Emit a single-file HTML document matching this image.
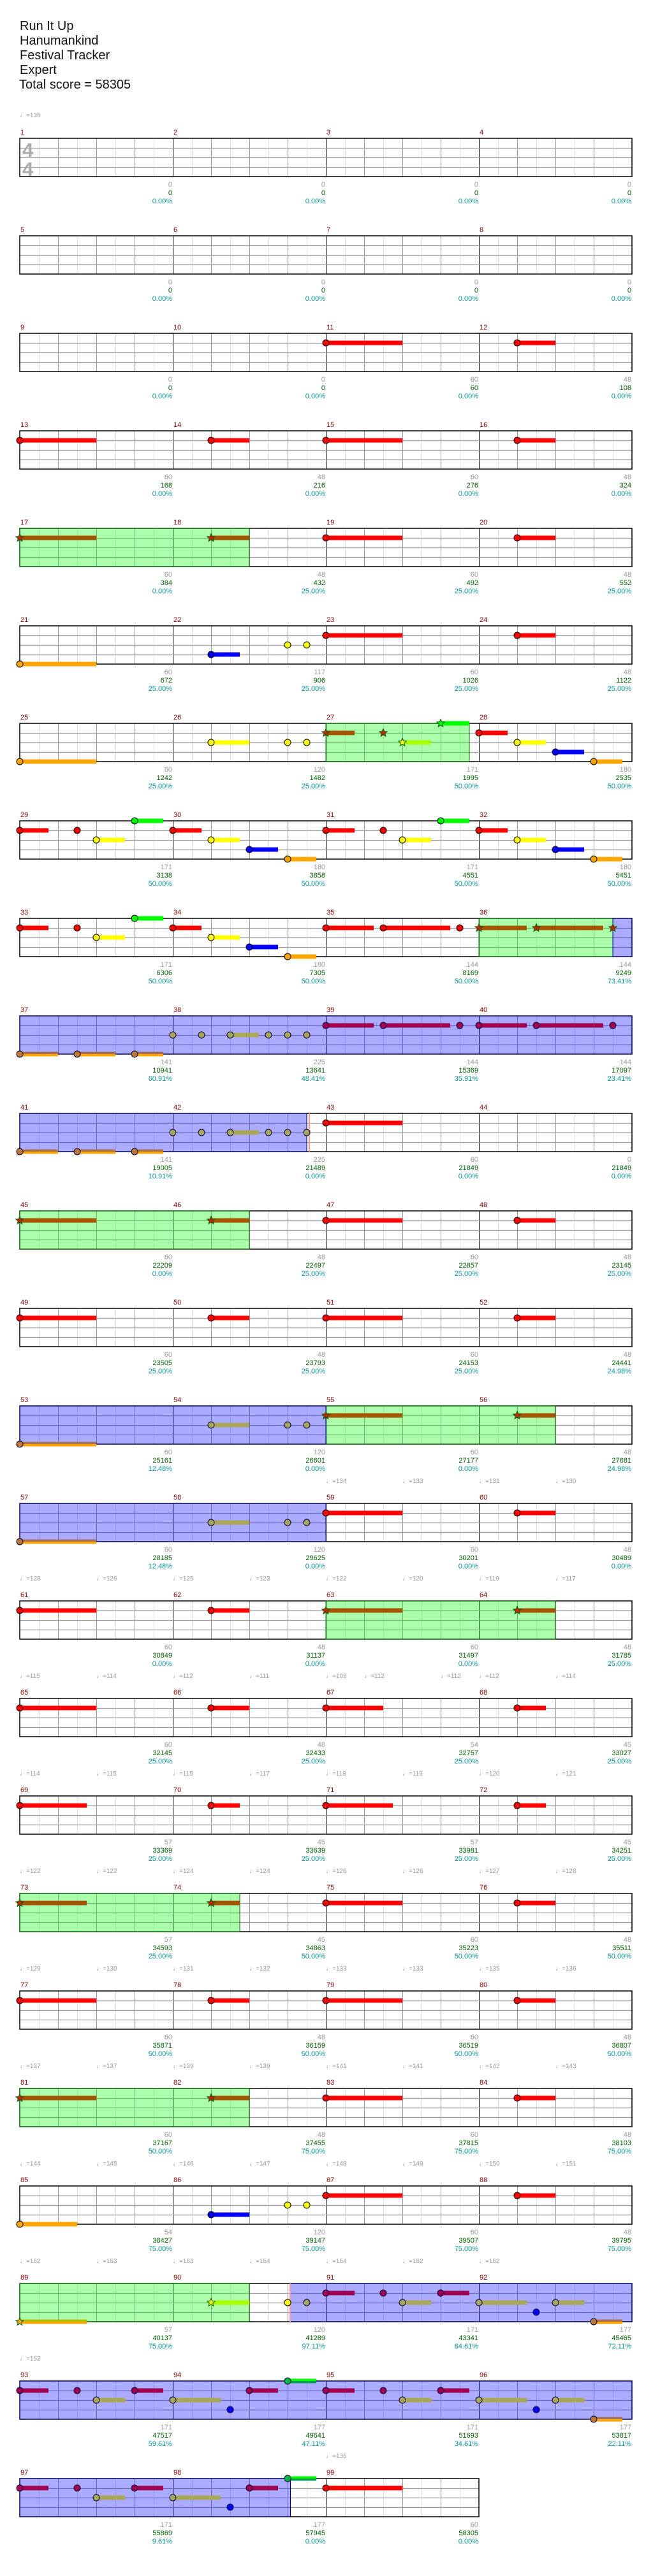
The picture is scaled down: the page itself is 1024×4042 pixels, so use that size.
<!DOCTYPE html>
<html><head><meta charset="utf-8">
<style>
html,body{margin:0;padding:0;background:#fff}
svg{display:block}
text{font-family:"Liberation Sans",sans-serif}
.ti{font-size:20px;fill:#111}
.mn{font-size:11px;fill:#8b0000}
.a,.b,.c{font-size:11px;text-anchor:end}
.a{fill:#999}.b{fill:#006400}.c{fill:#009999}
.t{font-size:10px;fill:#999}
.ts{font-size:31px;font-weight:bold;fill:#aaa}
</style></head><body>
<svg id="s" xmlns="http://www.w3.org/2000/svg" width="1024" height="4042" viewBox="0 0 1024 4042">
<rect width="1024" height="4042" fill="#fff"/>
<g id="grid"></g><g id="bg"></g><g id="notes"></g>
<text class="ti" x="31" y="47">Run It Up</text>
<text class="ti" x="31" y="70">Hanumankind</text>
<text class="ti" x="31" y="93">Festival Tracker</text>
<text class="ti" x="31" y="116">Expert</text>
<text class="ti" x="30" y="139">Total score = 58305</text>
<text class="t" x="31" y="184">♩=135</text>
<text class="ts" x="35" y="246">4</text>
<text class="ts" x="35" y="276">4</text>

<g transform="translate(0,217)"><text class="mn" x="32" y="-6">1</text><text class="mn" x="272" y="-6">2</text><text class="mn" x="512" y="-6">3</text><text class="mn" x="752" y="-6">4</text>
<text class="a" x="270" y="76">0</text><text class="b" x="270" y="89">0</text><text class="c" x="270" y="102">0.00%</text>
<text class="a" x="510" y="76">0</text><text class="b" x="510" y="89">0</text><text class="c" x="510" y="102">0.00%</text>
<text class="a" x="750" y="76">0</text><text class="b" x="750" y="89">0</text><text class="c" x="750" y="102">0.00%</text>
<text class="a" x="990" y="76">0</text><text class="b" x="990" y="89">0</text><text class="c" x="990" y="102">0.00%</text></g>

<g transform="translate(0,370)"><text class="mn" x="32" y="-6">5</text><text class="mn" x="272" y="-6">6</text><text class="mn" x="512" y="-6">7</text><text class="mn" x="752" y="-6">8</text>
<text class="a" x="270" y="76">0</text><text class="b" x="270" y="89">0</text><text class="c" x="270" y="102">0.00%</text>
<text class="a" x="510" y="76">0</text><text class="b" x="510" y="89">0</text><text class="c" x="510" y="102">0.00%</text>
<text class="a" x="750" y="76">0</text><text class="b" x="750" y="89">0</text><text class="c" x="750" y="102">0.00%</text>
<text class="a" x="990" y="76">0</text><text class="b" x="990" y="89">0</text><text class="c" x="990" y="102">0.00%</text></g>

<g transform="translate(0,523)"><text class="mn" x="32" y="-6">9</text><text class="mn" x="272" y="-6">10</text><text class="mn" x="512" y="-6">11</text><text class="mn" x="752" y="-6">12</text>
<text class="a" x="270" y="76">0</text><text class="b" x="270" y="89">0</text><text class="c" x="270" y="102">0.00%</text>
<text class="a" x="510" y="76">0</text><text class="b" x="510" y="89">0</text><text class="c" x="510" y="102">0.00%</text>
<text class="a" x="750" y="76">60</text><text class="b" x="750" y="89">60</text><text class="c" x="750" y="102">0.00%</text>
<text class="a" x="990" y="76">48</text><text class="b" x="990" y="89">108</text><text class="c" x="990" y="102">0.00%</text></g>

<g transform="translate(0,676)"><text class="mn" x="32" y="-6">13</text><text class="mn" x="272" y="-6">14</text><text class="mn" x="512" y="-6">15</text><text class="mn" x="752" y="-6">16</text>
<text class="a" x="270" y="76">60</text><text class="b" x="270" y="89">168</text><text class="c" x="270" y="102">0.00%</text>
<text class="a" x="510" y="76">48</text><text class="b" x="510" y="89">216</text><text class="c" x="510" y="102">0.00%</text>
<text class="a" x="750" y="76">60</text><text class="b" x="750" y="89">276</text><text class="c" x="750" y="102">0.00%</text>
<text class="a" x="990" y="76">48</text><text class="b" x="990" y="89">324</text><text class="c" x="990" y="102">0.00%</text></g>

<g transform="translate(0,829)"><text class="mn" x="32" y="-6">17</text><text class="mn" x="272" y="-6">18</text><text class="mn" x="512" y="-6">19</text><text class="mn" x="752" y="-6">20</text>
<text class="a" x="270" y="76">60</text><text class="b" x="270" y="89">384</text><text class="c" x="270" y="102">0.00%</text>
<text class="a" x="510" y="76">48</text><text class="b" x="510" y="89">432</text><text class="c" x="510" y="102">25.00%</text>
<text class="a" x="750" y="76">60</text><text class="b" x="750" y="89">492</text><text class="c" x="750" y="102">25.00%</text>
<text class="a" x="990" y="76">48</text><text class="b" x="990" y="89">552</text><text class="c" x="990" y="102">25.00%</text></g>

<g transform="translate(0,982)"><text class="mn" x="32" y="-6">21</text><text class="mn" x="272" y="-6">22</text><text class="mn" x="512" y="-6">23</text><text class="mn" x="752" y="-6">24</text>
<text class="a" x="270" y="76">60</text><text class="b" x="270" y="89">672</text><text class="c" x="270" y="102">25.00%</text>
<text class="a" x="510" y="76">117</text><text class="b" x="510" y="89">906</text><text class="c" x="510" y="102">25.00%</text>
<text class="a" x="750" y="76">60</text><text class="b" x="750" y="89">1026</text><text class="c" x="750" y="102">25.00%</text>
<text class="a" x="990" y="76">48</text><text class="b" x="990" y="89">1122</text><text class="c" x="990" y="102">25.00%</text></g>

<g transform="translate(0,1135)"><text class="mn" x="32" y="-6">25</text><text class="mn" x="272" y="-6">26</text><text class="mn" x="512" y="-6">27</text><text class="mn" x="752" y="-6">28</text>
<text class="a" x="270" y="76">60</text><text class="b" x="270" y="89">1242</text><text class="c" x="270" y="102">25.00%</text>
<text class="a" x="510" y="76">120</text><text class="b" x="510" y="89">1482</text><text class="c" x="510" y="102">25.00%</text>
<text class="a" x="750" y="76">171</text><text class="b" x="750" y="89">1995</text><text class="c" x="750" y="102">50.00%</text>
<text class="a" x="990" y="76">180</text><text class="b" x="990" y="89">2535</text><text class="c" x="990" y="102">50.00%</text></g>

<g transform="translate(0,1288)"><text class="mn" x="32" y="-6">29</text><text class="mn" x="272" y="-6">30</text><text class="mn" x="512" y="-6">31</text><text class="mn" x="752" y="-6">32</text>
<text class="a" x="270" y="76">171</text><text class="b" x="270" y="89">3138</text><text class="c" x="270" y="102">50.00%</text>
<text class="a" x="510" y="76">180</text><text class="b" x="510" y="89">3858</text><text class="c" x="510" y="102">50.00%</text>
<text class="a" x="750" y="76">171</text><text class="b" x="750" y="89">4551</text><text class="c" x="750" y="102">50.00%</text>
<text class="a" x="990" y="76">180</text><text class="b" x="990" y="89">5451</text><text class="c" x="990" y="102">50.00%</text></g>

<g transform="translate(0,1441)"><text class="mn" x="32" y="-6">33</text><text class="mn" x="272" y="-6">34</text><text class="mn" x="512" y="-6">35</text><text class="mn" x="752" y="-6">36</text>
<text class="a" x="270" y="76">171</text><text class="b" x="270" y="89">6306</text><text class="c" x="270" y="102">50.00%</text>
<text class="a" x="510" y="76">180</text><text class="b" x="510" y="89">7305</text><text class="c" x="510" y="102">50.00%</text>
<text class="a" x="750" y="76">144</text><text class="b" x="750" y="89">8169</text><text class="c" x="750" y="102">50.00%</text>
<text class="a" x="990" y="76">144</text><text class="b" x="990" y="89">9249</text><text class="c" x="990" y="102">73.41%</text></g>

<g transform="translate(0,1594)"><text class="mn" x="32" y="-6">37</text><text class="mn" x="272" y="-6">38</text><text class="mn" x="512" y="-6">39</text><text class="mn" x="752" y="-6">40</text>
<text class="a" x="270" y="76">141</text><text class="b" x="270" y="89">10941</text><text class="c" x="270" y="102">60.91%</text>
<text class="a" x="510" y="76">225</text><text class="b" x="510" y="89">13641</text><text class="c" x="510" y="102">48.41%</text>
<text class="a" x="750" y="76">144</text><text class="b" x="750" y="89">15369</text><text class="c" x="750" y="102">35.91%</text>
<text class="a" x="990" y="76">144</text><text class="b" x="990" y="89">17097</text><text class="c" x="990" y="102">23.41%</text></g>

<g transform="translate(0,1747)"><text class="mn" x="32" y="-6">41</text><text class="mn" x="272" y="-6">42</text><text class="mn" x="512" y="-6">43</text><text class="mn" x="752" y="-6">44</text>
<text class="a" x="270" y="76">141</text><text class="b" x="270" y="89">19005</text><text class="c" x="270" y="102">10.91%</text>
<text class="a" x="510" y="76">225</text><text class="b" x="510" y="89">21489</text><text class="c" x="510" y="102">0.00%</text>
<text class="a" x="750" y="76">60</text><text class="b" x="750" y="89">21849</text><text class="c" x="750" y="102">0.00%</text>
<text class="a" x="990" y="76">0</text><text class="b" x="990" y="89">21849</text><text class="c" x="990" y="102">0.00%</text></g>

<g transform="translate(0,1900)"><text class="mn" x="32" y="-6">45</text><text class="mn" x="272" y="-6">46</text><text class="mn" x="512" y="-6">47</text><text class="mn" x="752" y="-6">48</text>
<text class="a" x="270" y="76">60</text><text class="b" x="270" y="89">22209</text><text class="c" x="270" y="102">0.00%</text>
<text class="a" x="510" y="76">48</text><text class="b" x="510" y="89">22497</text><text class="c" x="510" y="102">25.00%</text>
<text class="a" x="750" y="76">60</text><text class="b" x="750" y="89">22857</text><text class="c" x="750" y="102">25.00%</text>
<text class="a" x="990" y="76">48</text><text class="b" x="990" y="89">23145</text><text class="c" x="990" y="102">25.00%</text></g>

<g transform="translate(0,2053)"><text class="mn" x="32" y="-6">49</text><text class="mn" x="272" y="-6">50</text><text class="mn" x="512" y="-6">51</text><text class="mn" x="752" y="-6">52</text>
<text class="a" x="270" y="76">60</text><text class="b" x="270" y="89">23505</text><text class="c" x="270" y="102">25.00%</text>
<text class="a" x="510" y="76">48</text><text class="b" x="510" y="89">23793</text><text class="c" x="510" y="102">25.00%</text>
<text class="a" x="750" y="76">60</text><text class="b" x="750" y="89">24153</text><text class="c" x="750" y="102">25.00%</text>
<text class="a" x="990" y="76">48</text><text class="b" x="990" y="89">24441</text><text class="c" x="990" y="102">24.98%</text></g>

<g transform="translate(0,2206)"><text class="mn" x="32" y="-6">53</text><text class="mn" x="272" y="-6">54</text><text class="mn" x="512" y="-6">55</text><text class="mn" x="752" y="-6">56</text>
<text class="a" x="270" y="76">60</text><text class="b" x="270" y="89">25161</text><text class="c" x="270" y="102">12.48%</text>
<text class="a" x="510" y="76">120</text><text class="b" x="510" y="89">26601</text><text class="c" x="510" y="102">0.00%</text>
<text class="a" x="750" y="76">60</text><text class="b" x="750" y="89">27177</text><text class="c" x="750" y="102">0.00%</text>
<text class="a" x="990" y="76">48</text><text class="b" x="990" y="89">27681</text><text class="c" x="990" y="102">24.98%</text>
<text class="t" x="511" y="121">♩=134</text><text class="t" x="631" y="121">♩=133</text><text class="t" x="751" y="121">♩=131</text><text class="t" x="871" y="121">♩=130</text></g>

<g transform="translate(0,2359)"><text class="mn" x="32" y="-6">57</text><text class="mn" x="272" y="-6">58</text><text class="mn" x="512" y="-6">59</text><text class="mn" x="752" y="-6">60</text>
<text class="a" x="270" y="76">60</text><text class="b" x="270" y="89">28185</text><text class="c" x="270" y="102">12.48%</text>
<text class="a" x="510" y="76">120</text><text class="b" x="510" y="89">29625</text><text class="c" x="510" y="102">0.00%</text>
<text class="a" x="750" y="76">60</text><text class="b" x="750" y="89">30201</text><text class="c" x="750" y="102">0.00%</text>
<text class="a" x="990" y="76">48</text><text class="b" x="990" y="89">30489</text><text class="c" x="990" y="102">0.00%</text>
<text class="t" x="31" y="121">♩=128</text><text class="t" x="151" y="121">♩=126</text><text class="t" x="271" y="121">♩=125</text><text class="t" x="391" y="121">♩=123</text><text class="t" x="511" y="121">♩=122</text><text class="t" x="631" y="121">♩=120</text><text class="t" x="751" y="121">♩=119</text><text class="t" x="871" y="121">♩=117</text></g>

<g transform="translate(0,2512)"><text class="mn" x="32" y="-6">61</text><text class="mn" x="272" y="-6">62</text><text class="mn" x="512" y="-6">63</text><text class="mn" x="752" y="-6">64</text>
<text class="a" x="270" y="76">60</text><text class="b" x="270" y="89">30849</text><text class="c" x="270" y="102">0.00%</text>
<text class="a" x="510" y="76">48</text><text class="b" x="510" y="89">31137</text><text class="c" x="510" y="102">0.00%</text>
<text class="a" x="750" y="76">60</text><text class="b" x="750" y="89">31497</text><text class="c" x="750" y="102">0.00%</text>
<text class="a" x="990" y="76">48</text><text class="b" x="990" y="89">31785</text><text class="c" x="990" y="102">25.00%</text>
<text class="t" x="31" y="121">♩=115</text><text class="t" x="151" y="121">♩=114</text><text class="t" x="271" y="121">♩=112</text><text class="t" x="391" y="121">♩=111</text><text class="t" x="511" y="121">♩=108</text><text class="t" x="571" y="121">♩=112</text><text class="t" x="691" y="121">♩=112</text><text class="t" x="751" y="121">♩=112</text><text class="t" x="871" y="121">♩=114</text></g>

<g transform="translate(0,2665)"><text class="mn" x="32" y="-6">65</text><text class="mn" x="272" y="-6">66</text><text class="mn" x="512" y="-6">67</text><text class="mn" x="752" y="-6">68</text>
<text class="a" x="270" y="76">60</text><text class="b" x="270" y="89">32145</text><text class="c" x="270" y="102">25.00%</text>
<text class="a" x="510" y="76">48</text><text class="b" x="510" y="89">32433</text><text class="c" x="510" y="102">25.00%</text>
<text class="a" x="750" y="76">54</text><text class="b" x="750" y="89">32757</text><text class="c" x="750" y="102">25.00%</text>
<text class="a" x="990" y="76">45</text><text class="b" x="990" y="89">33027</text><text class="c" x="990" y="102">25.00%</text>
<text class="t" x="31" y="121">♩=114</text><text class="t" x="151" y="121">♩=115</text><text class="t" x="271" y="121">♩=115</text><text class="t" x="391" y="121">♩=117</text><text class="t" x="511" y="121">♩=118</text><text class="t" x="631" y="121">♩=119</text><text class="t" x="751" y="121">♩=120</text><text class="t" x="871" y="121">♩=121</text></g>

<g transform="translate(0,2818)"><text class="mn" x="32" y="-6">69</text><text class="mn" x="272" y="-6">70</text><text class="mn" x="512" y="-6">71</text><text class="mn" x="752" y="-6">72</text>
<text class="a" x="270" y="76">57</text><text class="b" x="270" y="89">33369</text><text class="c" x="270" y="102">25.00%</text>
<text class="a" x="510" y="76">45</text><text class="b" x="510" y="89">33639</text><text class="c" x="510" y="102">25.00%</text>
<text class="a" x="750" y="76">57</text><text class="b" x="750" y="89">33981</text><text class="c" x="750" y="102">25.00%</text>
<text class="a" x="990" y="76">45</text><text class="b" x="990" y="89">34251</text><text class="c" x="990" y="102">25.00%</text>
<text class="t" x="31" y="121">♩=122</text><text class="t" x="151" y="121">♩=122</text><text class="t" x="271" y="121">♩=124</text><text class="t" x="391" y="121">♩=124</text><text class="t" x="511" y="121">♩=126</text><text class="t" x="631" y="121">♩=126</text><text class="t" x="751" y="121">♩=127</text><text class="t" x="871" y="121">♩=128</text></g>

<g transform="translate(0,2971)"><text class="mn" x="32" y="-6">73</text><text class="mn" x="272" y="-6">74</text><text class="mn" x="512" y="-6">75</text><text class="mn" x="752" y="-6">76</text>
<text class="a" x="270" y="76">57</text><text class="b" x="270" y="89">34593</text><text class="c" x="270" y="102">25.00%</text>
<text class="a" x="510" y="76">45</text><text class="b" x="510" y="89">34863</text><text class="c" x="510" y="102">50.00%</text>
<text class="a" x="750" y="76">60</text><text class="b" x="750" y="89">35223</text><text class="c" x="750" y="102">50.00%</text>
<text class="a" x="990" y="76">48</text><text class="b" x="990" y="89">35511</text><text class="c" x="990" y="102">50.00%</text>
<text class="t" x="31" y="121">♩=129</text><text class="t" x="151" y="121">♩=130</text><text class="t" x="271" y="121">♩=131</text><text class="t" x="391" y="121">♩=132</text><text class="t" x="511" y="121">♩=133</text><text class="t" x="631" y="121">♩=133</text><text class="t" x="751" y="121">♩=135</text><text class="t" x="871" y="121">♩=136</text></g>

<g transform="translate(0,3124)"><text class="mn" x="32" y="-6">77</text><text class="mn" x="272" y="-6">78</text><text class="mn" x="512" y="-6">79</text><text class="mn" x="752" y="-6">80</text>
<text class="a" x="270" y="76">60</text><text class="b" x="270" y="89">35871</text><text class="c" x="270" y="102">50.00%</text>
<text class="a" x="510" y="76">48</text><text class="b" x="510" y="89">36159</text><text class="c" x="510" y="102">50.00%</text>
<text class="a" x="750" y="76">60</text><text class="b" x="750" y="89">36519</text><text class="c" x="750" y="102">50.00%</text>
<text class="a" x="990" y="76">48</text><text class="b" x="990" y="89">36807</text><text class="c" x="990" y="102">50.00%</text>
<text class="t" x="31" y="121">♩=137</text><text class="t" x="151" y="121">♩=137</text><text class="t" x="271" y="121">♩=139</text><text class="t" x="391" y="121">♩=139</text><text class="t" x="511" y="121">♩=141</text><text class="t" x="631" y="121">♩=141</text><text class="t" x="751" y="121">♩=142</text><text class="t" x="871" y="121">♩=143</text></g>

<g transform="translate(0,3277)"><text class="mn" x="32" y="-6">81</text><text class="mn" x="272" y="-6">82</text><text class="mn" x="512" y="-6">83</text><text class="mn" x="752" y="-6">84</text>
<text class="a" x="270" y="76">60</text><text class="b" x="270" y="89">37167</text><text class="c" x="270" y="102">50.00%</text>
<text class="a" x="510" y="76">48</text><text class="b" x="510" y="89">37455</text><text class="c" x="510" y="102">75.00%</text>
<text class="a" x="750" y="76">60</text><text class="b" x="750" y="89">37815</text><text class="c" x="750" y="102">75.00%</text>
<text class="a" x="990" y="76">48</text><text class="b" x="990" y="89">38103</text><text class="c" x="990" y="102">75.00%</text>
<text class="t" x="31" y="121">♩=144</text><text class="t" x="151" y="121">♩=145</text><text class="t" x="271" y="121">♩=146</text><text class="t" x="391" y="121">♩=147</text><text class="t" x="511" y="121">♩=148</text><text class="t" x="631" y="121">♩=149</text><text class="t" x="751" y="121">♩=150</text><text class="t" x="871" y="121">♩=151</text></g>

<g transform="translate(0,3430)"><text class="mn" x="32" y="-6">85</text><text class="mn" x="272" y="-6">86</text><text class="mn" x="512" y="-6">87</text><text class="mn" x="752" y="-6">88</text>
<text class="a" x="270" y="76">54</text><text class="b" x="270" y="89">38427</text><text class="c" x="270" y="102">75.00%</text>
<text class="a" x="510" y="76">120</text><text class="b" x="510" y="89">39147</text><text class="c" x="510" y="102">75.00%</text>
<text class="a" x="750" y="76">60</text><text class="b" x="750" y="89">39507</text><text class="c" x="750" y="102">75.00%</text>
<text class="a" x="990" y="76">48</text><text class="b" x="990" y="89">39795</text><text class="c" x="990" y="102">75.00%</text>
<text class="t" x="31" y="121">♩=152</text><text class="t" x="151" y="121">♩=153</text><text class="t" x="271" y="121">♩=153</text><text class="t" x="391" y="121">♩=154</text><text class="t" x="511" y="121">♩=154</text><text class="t" x="631" y="121">♩=152</text><text class="t" x="751" y="121">♩=152</text></g>

<g transform="translate(0,3583)"><text class="mn" x="32" y="-6">89</text><text class="mn" x="272" y="-6">90</text><text class="mn" x="512" y="-6">91</text><text class="mn" x="752" y="-6">92</text>
<text class="a" x="270" y="76">57</text><text class="b" x="270" y="89">40137</text><text class="c" x="270" y="102">75.00%</text>
<text class="a" x="510" y="76">120</text><text class="b" x="510" y="89">41289</text><text class="c" x="510" y="102">97.11%</text>
<text class="a" x="750" y="76">171</text><text class="b" x="750" y="89">43341</text><text class="c" x="750" y="102">84.61%</text>
<text class="a" x="990" y="76">177</text><text class="b" x="990" y="89">45465</text><text class="c" x="990" y="102">72.11%</text>
<text class="t" x="31" y="121">♩=152</text></g>

<g transform="translate(0,3736)"><text class="mn" x="32" y="-6">93</text><text class="mn" x="272" y="-6">94</text><text class="mn" x="512" y="-6">95</text><text class="mn" x="752" y="-6">96</text>
<text class="a" x="270" y="76">171</text><text class="b" x="270" y="89">47517</text><text class="c" x="270" y="102">59.61%</text>
<text class="a" x="510" y="76">177</text><text class="b" x="510" y="89">49641</text><text class="c" x="510" y="102">47.11%</text>
<text class="a" x="750" y="76">171</text><text class="b" x="750" y="89">51693</text><text class="c" x="750" y="102">34.61%</text>
<text class="a" x="990" y="76">177</text><text class="b" x="990" y="89">53817</text><text class="c" x="990" y="102">22.11%</text>
<text class="t" x="511" y="121">♩=135</text></g>

<g transform="translate(0,3889)"><text class="mn" x="32" y="-6">97</text><text class="mn" x="272" y="-6">98</text><text class="mn" x="512" y="-6">99</text>
<text class="a" x="270" y="76">171</text><text class="b" x="270" y="89">55869</text><text class="c" x="270" y="102">9.61%</text>
<text class="a" x="510" y="76">177</text><text class="b" x="510" y="89">57945</text><text class="c" x="510" y="102">0.00%</text>
<text class="a" x="750" y="76">60</text><text class="b" x="750" y="89">58305</text><text class="c" x="750" y="102">0.00%</text></g>
</svg>
<script>
(function(){
var NS="http://www.w3.org/2000/svg";
var G=document.getElementById('grid'),B=document.getElementById('bg'),N=document.getElementById('notes');
function el(p,t,a){var e=document.createElementNS(NS,t);for(var k in a)e.setAttribute(k,a[k]);p.appendChild(e);return e;}
function RY(r){return 217+153*r;}
// grid
for(var r=0;r<25;r++){
  var nm=r==24?3:4,y=RY(r),w=240*nm;
  for(var i=1;i<nm*8;i++){
    var x=31+30*i+0.5,c=i%8==0?'#000':(i%2==0?'#999':'#ddd');
    el(G,'line',{x1:x,x2:x,y1:y,y2:y+60,stroke:c,'stroke-width':1});
  }
  for(var l=1;l<4;l++){el(G,'line',{x1:31,x2:31+w,y1:y+15*l+0.5,y2:y+15*l+0.5,stroke:'#999','stroke-width':1.2});}
  el(G,'rect',{x:31,y:y,width:w,height:60,fill:'none',stroke:'#000','stroke-width':1.5});
}
// backgrounds
function ab(m,p){return (m-1)*8+p;}
var BG=[[17,0,18,4,'g'],[27,0,27,7.5,'g'],[36,0,36,7,'g'],[45,0,46,4,'g'],[55,0,56,4,'g'],[63,0,64,4,'g'],[73,0,74,3.5,'g'],[81,0,82,4,'g'],[89,0,90,4,'g'],
[36,7,42,7,'b'],[53,0,54,8,'b'],[57,0,58,8,'b'],[90,6.15,98,6.15,'b']];
BG.forEach(function(b){
  var a=ab(b[0],b[1]),e=ab(b[2],b[3]);
  for(var r=Math.floor(a/32);r*32<e;r++){
    var s=Math.max(a,r*32),t=Math.min(e,r*32+32);
    if(t<=s)continue;
    el(B,'rect',{x:31+30*(s-r*32),y:RY(r),width:30*(t-s),height:60,
      fill:b[4]=='g'?'#00ff00':'#0000ff','fill-opacity':0.33,
      stroke:b[4]=='g'?'#007000':'#000070','stroke-width':1});
  }
});
[[42,7],[90,6]].forEach(function(q){var m=q[0];var r=Math.floor((m-1)/4);
  el(B,'rect',{x:31+240*((m-1)%4)+30*q[1]+3,y:RY(r),width:2,height:60,fill:'#f99'});});
// notes
var L=[];
function add(t,m,arr){arr.forEach(function(n){L.push([m,n[0],n[1],n[2],t]);});}
var P2=[[2,1,2]],P4=[[0,1,4]];
[11,13,15,19,23,43,47,49,51,59,61,65,75,77,79,83,87,99].forEach(function(m){add('n',m,P4);});
[12,14,16,20,24,48,50,52,60,62,66,76,78,80,84,88].forEach(function(m){add('n',m,P2);});
add('n',21,[[0,4,4]]);add('n',22,[[2,3,1.5],[6,2,0],[7,2,0]]);
add('n',25,[[0,4,4]]);add('n',26,[[2,2,2],[6,2,0],[7,2,0]]);
var PA=[[0,1,1.5],[3,1,0],[4,2,1.5],[6,0,1.5]],PB=[[0,1,1.5],[2,2,1.5],[4,3,1.5],[6,4,1.5]];
add('n',28,PB);[29,31,33].forEach(function(m){add('n',m,PA);});[30,32,34].forEach(function(m){add('n',m,PB);});
add('n',35,[[0,1,2.5],[3,1,3.5],[7,1,0]]);
add('n',67,[[0,1,3]]);add('n',68,[[2,1,1.5]]);
[69,71].forEach(function(m){add('n',m,[[0,1,3.5]]);});[70,72].forEach(function(m){add('n',m,[[2,1,1.5]]);});
add('n',85,[[0,4,3]]);add('n',86,[[2,3,2],[6,2,0],[7,2,0]]);
add('n',90,[[6,2,0]]);
// star
[17,45,55,63,81].forEach(function(m){add('s',m,P4);});
[18,46,56,64,82].forEach(function(m){add('s',m,P2);});
add('s',27,[[0,1,1.5],[3,1,0],[4,2,1.5],[6,0,1.5]]);
add('s',36,[[0,1,2.5],[3,1,3.5],[7,1,0]]);
add('s',73,[[0,1,3.5]]);add('s',74,[[2,1,1.5]]);
add('s',89,[[0,4,3.5]]);add('s',90,[[2,2,2]]);
// overdrive
[37,41].forEach(function(m){add('o',m,[[0,4,2],[3,4,2],[6,4,1.5]]);});
[38,42].forEach(function(m){add('o',m,[[0,2,0],[1.5,2,0],[3,2,1.5],[5,2,0],[6,2,0],[7,2,0]]);});
[39,40].forEach(function(m){add('o',m,[[0,1,2.5],[3,1,3.5],[7,1,0]]);});
[53,57].forEach(function(m){add('o',m,[[0,4,4]]);});
[54,58].forEach(function(m){add('o',m,[[2,2,2],[6,2,0],[7,2,0]]);});
add('o',90,[[7,2,0]]);
[91,93,95,97].forEach(function(m){add('o',m,[[0,1,1.5],[3,1,0],[6,1,1.5],[4,2,1.5]]);});
[92,96].forEach(function(m){add('o',m,[[0,2,2.5],[4,2,1.5],[3,3,0],[6,4,1.5]]);});
[94,98].forEach(function(m){add('o',m,[[0,2,2.5],[3,3,0],[4,1,1.5],[6,0,1.5]]);});
var NC=['#00ff00','#ff0000','#ffff00','#0000ff','#ffa500'];
var SC=['#00ff00','#a65400','#aaff00','#0000ff',null];
var OC=[null,'#a0004f','#a8a858','#0000ff',null];
function star(cx,cy,R){var p=[];for(var i=0;i<10;i++){var rr=i%2?R*0.45:R,a=-Math.PI/2+i*Math.PI/5;p.push((cx+rr*Math.cos(a)).toFixed(1)+','+(cy+rr*Math.sin(a)).toFixed(1));}return p.join(' ');}
var bars=[],heads=[];
L.forEach(function(n){
  var m=n[0],p=n[1],l=n[2],len=n[3],t=n[4];
  var r=Math.floor((m-1)/4),x=31+240*((m-1)%4)+30*p,y=RY(r)+15*l;
  if(len>0){
    var w=len*30;
    if(t=='n'||(t=='s'&&l!=4)||(t=='o'&&l>0&&l<4)){
      var c=t=='n'?NC[l]:(t=='s'?SC[l]:OC[l]);
      el(N,'rect',{x:x,y:y-3.5,width:w,height:7,fill:c});
    }else{
      var top=t=='s'?'#b0c000':(l==0?'#00ff00':'#a87050'),bot=(t=='o'&&l==0)?'#00a050':'#ffa500';
      el(N,'rect',{x:x,y:y-3.5,width:w,height:3.5,fill:top});
      el(N,'rect',{x:x,y:y,width:w,height:3.5,fill:bot});
    }
  }
  heads.push([x,y,l,t]);
});
heads.forEach(function(h){
  var x=h[0],y=h[1],l=h[2],t=h[3];
  if(t=='s'){
    el(N,'polygon',{points:star(x,y,6.5),fill:l==1?'#cc2200':NC[l],stroke:'#006000','stroke-width':1});
  }else if(t=='o'){
    var c=OC[l]||(l==4?'#c07a30':'#00c040');
    el(N,'circle',{cx:x,cy:y,r:5,fill:c,stroke:'#000040','stroke-width':1});
  }else{
    el(N,'circle',{cx:x,cy:y,r:5,fill:NC[l],stroke:'#000','stroke-width':1});
  }
});
})();
</script>
</body></html>
